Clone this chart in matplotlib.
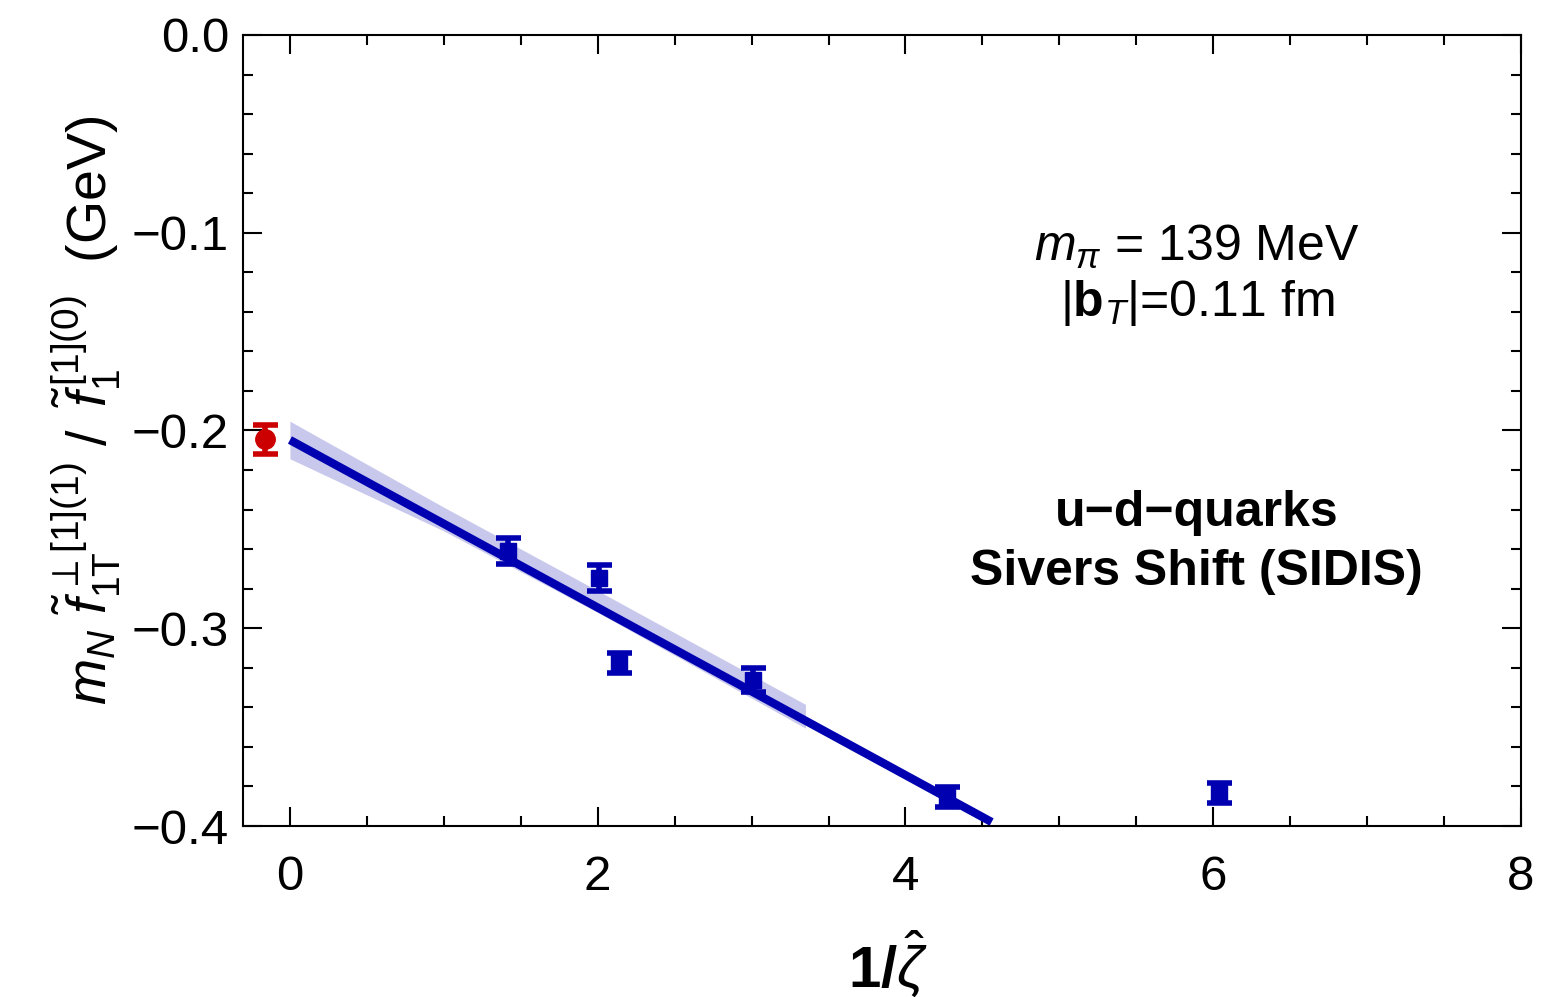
import numpy as np
import matplotlib
matplotlib.use("Agg")
import matplotlib.pyplot as plt
from matplotlib.ticker import MultipleLocator

plt.rcParams['font.family'] = ['Liberation Sans', 'DejaVu Sans']
plt.rcParams['mathtext.fontset'] = 'custom'
plt.rcParams['mathtext.rm'] = 'Liberation Sans'
plt.rcParams['mathtext.it'] = 'Liberation Sans:italic'
plt.rcParams['mathtext.bf'] = 'Liberation Sans:bold'

# data
x_lat = [1.42, 2.01, 2.14, 3.01, 4.27, 6.04]
y_lat = [-0.261, -0.2745, -0.3175, -0.326, -0.3855, -0.3835]
e_lat = [0.0065, 0.0065, 0.005, 0.006, 0.005, 0.005]
x_ext = [-0.16]
y_ext = [-0.2045]
e_ext = [0.0075]
fit_x = [0.0, 4.56]
fit_y = [-0.2048, -0.398]
band_x = [0.0, 1.0, 2.0, 3.35]
band_lo = [-0.2143, -0.2508, -0.2920, -0.3505]
band_hi = [-0.1953, -0.2388, -0.2810, -0.3385]

blue = '#0000b0'
red = '#cc0000'

fig = plt.figure(figsize=(15.45, 9.97), dpi=100)
ax = fig.add_axes([243/1545, 1-826/997, (1521-243)/1545, (826-35)/997])

ax.fill_between(band_x, band_lo, band_hi, color='#c8c8ec', lw=0, zorder=1)
ax.plot(fit_x, fit_y, color=blue, lw=6, solid_capstyle='butt', zorder=2)
ax.errorbar(x_lat, y_lat, yerr=e_lat, fmt='s', color=blue, ms=12, capsize=9,
            capthick=4, elinewidth=4, zorder=3)
ax.errorbar(x_ext, y_ext, yerr=e_ext, fmt='o', color=red, ms=14, capsize=9,
            capthick=4, elinewidth=4, zorder=3)

ax.set_xlim(-0.305, 8)
ax.set_ylim(-0.4, 0.0)
ax.xaxis.set_major_locator(MultipleLocator(2))
ax.xaxis.set_minor_locator(MultipleLocator(0.5))
ax.yaxis.set_major_locator(MultipleLocator(0.1))
ax.yaxis.set_minor_locator(MultipleLocator(0.02))
ax.tick_params(which='both', direction='in', top=True, right=True, width=1.5,
               labelsize=35.5)
ax.tick_params(which='major', length=14)
ax.tick_params(axis='y', which='major', pad=10)
ax.tick_params(axis='x', which='major', pad=21)
ax.tick_params(which='minor', length=7)
for s in ax.spines.values():
    s.set_linewidth(1.5)

ax.xaxis.set_major_formatter(plt.FuncFormatter(lambda v, p: f"{v:.0f}"))
ax.yaxis.set_major_formatter(plt.FuncFormatter(
    lambda v, p: "0.0" if abs(v) < 1e-9 else f"\u2212{abs(v):.1f}"))

xc = (1197 - 290) / 153.9
ax.text(xc, -0.107, r"$m_\pi$ = 139 MeV", fontsize=36, ha='center', va='center')
ax.text(xc, -0.1355, r"|$\mathbf{b}_T$|=0.11 fm", fontsize=36, ha='center', va='center')
ax.text(xc, -0.2418, "u\u2212d\u2212quarks", fontsize=36, fontweight='bold',
        ha='center', va='center')
ax.text(xc, -0.2715, "Sivers Shift (SIDIS)", fontsize=36, fontweight='bold',
        ha='center', va='center')

fig.text(888/1545, 1-964/997, r"$\mathbf{1/}\hat{\zeta}$",
         fontsize=42, ha='center', va='center', fontweight='bold')
fig.text(86/1545, 1-410/997,
         r"$m_N\ \tilde{f}_{1\mathrm{T}}^{\,\perp[1](1)}\ /\ \,\tilde{f}_{1}^{\,[1](0)}$  (GeV)",
         fontsize=40, rotation=90, ha='center', va='center')

fig.savefig("out.png", dpi=100)
